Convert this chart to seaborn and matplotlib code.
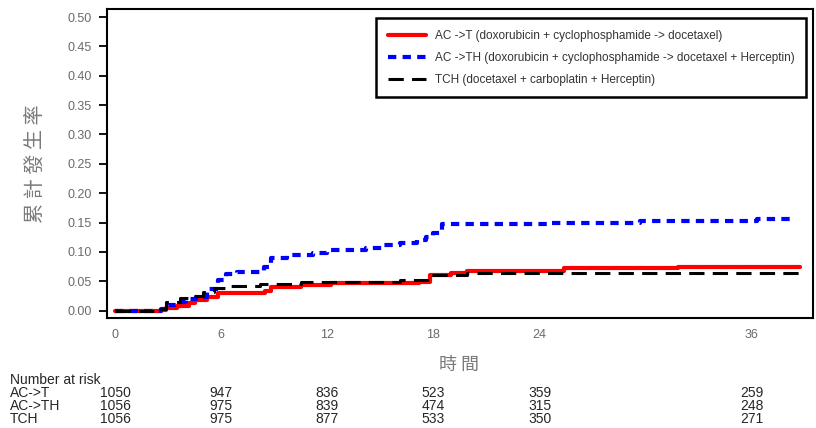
import numpy as np
import pandas as pd
import matplotlib
matplotlib.use('Agg')
import matplotlib.pyplot as plt
import matplotlib.transforms as mtransforms
import seaborn as sns

# Cumulative incidence curves (months, rate)
act_t = [0, 2.6, 2.9, 3.5, 4.2, 4.5, 5.2, 5.8, 8.5, 8.8, 9.5, 10.5, 12.2, 14.5, 17.2, 17.8, 19.0, 19.9, 25.4, 31.8, 38.7]
act_v = [0, 0.002, 0.005, 0.008, 0.013, 0.018, 0.023, 0.030, 0.034, 0.040, 0.041, 0.044, 0.047, 0.048, 0.049,
         0.061, 0.064, 0.068, 0.072, 0.075, 0.075]

acth_t = [0, 2.6, 3.0, 3.5, 4.0, 4.6, 5.2, 5.8, 6.3, 6.9, 8.4, 8.8, 9.7, 11.2, 12.0, 14.2, 15.2, 16.1, 17.1,
          17.6, 18.0, 18.5, 24.4, 29.7, 36.3, 38.2]
acth_v = [0, 0.003, 0.010, 0.015, 0.020, 0.024, 0.037, 0.052, 0.062, 0.066, 0.075, 0.089, 0.095, 0.099, 0.104,
          0.107, 0.112, 0.116, 0.120, 0.126, 0.132, 0.147, 0.150, 0.153, 0.156, 0.156]

tch_t = [0, 2.6, 2.9, 3.7, 4.4, 5.0, 5.6, 6.3, 8.2, 10.5, 16.1, 17.8, 19.9, 39.0]
tch_v = [0, 0.003, 0.015, 0.021, 0.025, 0.032, 0.038, 0.042, 0.045, 0.049, 0.053, 0.061, 0.065, 0.065]

legend_labels = ['AC ->T (doxorubicin + cyclophosphamide -> docetaxel)',
                 'AC ->TH (doxorubicin + cyclophosphamide -> docetaxel + Herceptin)',
                 'TCH (docetaxel + carboplatin + Herceptin)']

# Number at risk table
risk_times = [0, 6, 12, 18, 24, 36]
risk_names = ['AC->T', 'AC->TH', 'TCH']
risk_act = [1050, 947, 836, 523, 359, 259]
risk_acth = [1056, 975, 839, 474, 315, 248]
risk_tch = [1056, 975, 877, 533, 350, 271]

x_ticks = [0, 6, 12, 18, 24, 36]
y_ticks = [0.00, 0.05, 0.10, 0.15, 0.20, 0.25, 0.30, 0.35, 0.40, 0.45, 0.50]

sns.set_style('ticks')
plt.rcParams['font.family'] = ['Liberation Sans', 'Noto Sans CJK TC', 'DejaVu Sans']

fig = plt.figure(figsize=(8.16, 4.28), dpi=100)
ax = fig.add_axes([106.7 / 816, 1 - 318 / 428, (813 - 106.7) / 816, (318 - 8.5) / 428])

series = [
    (act_t, act_v, '#ff0000', '-', 3.0),
    (acth_t, acth_v, '#0000ff', (0, (2, 1.5)), 3.0),
    (tch_t, tch_v, 'black', (0, (5, 2.7)), 2.2),
]
for (t, v, col, ls, lw), lab in zip(series, legend_labels):
    df = pd.DataFrame({'t': t, 'v': v})
    sns.lineplot(data=df, x='t', y='v', ax=ax, color=col, linestyle=ls, linewidth=lw,
                 drawstyle='steps-post', estimator=None, sort=False, label=lab)

ax.set_xlim(-0.47, 39.46)
ax.set_ylim(-0.0124, 0.5145)
ax.set_xticks(x_ticks)
ax.set_yticks(y_ticks)
ax.set_yticklabels(['%.2f' % y for y in y_ticks])
ax.tick_params(axis='y', length=6, width=1.3, pad=5, labelsize=9, labelcolor='#6a6a6a', color='black')
ax.tick_params(axis='x', length=0, pad=8, labelsize=9, labelcolor='#6a6a6a')
for s in ax.spines.values():
    s.set_linewidth(1.5)
    s.set_color('black')

ax.set_ylabel('累 計 發 生 率', fontsize=14.5, color='#7a7a7a',
              family=['Noto Sans CJK TC', 'DejaVu Sans'])
ax.yaxis.set_label_coords(-0.086, 0.5)
ax.set_xlabel('時 間', fontsize=13, color='#7a7a7a',
              family=['Noto Sans CJK TC', 'DejaVu Sans'])
ax.xaxis.set_label_coords(0.4995, -0.122)

leg = ax.legend(loc='upper right', bbox_to_anchor=(806 / 816, 1 - 18 / 428),
                bbox_transform=fig.transFigure, borderaxespad=0, fontsize=8.45,
                handlelength=3.2, handletextpad=0.75, labelspacing=0.85, borderpad=1.0,
                fancybox=False, framealpha=1, edgecolor='black')
leg.get_frame().set_linewidth(1.8)
for txt in leg.get_texts():
    txt.set_color('#333333')

# Number at risk table below the axes
trans = mtransforms.blended_transform_factory(ax.transData, fig.transFigure)
row_y = [393, 406, 419]
fig.text(10 / 816, 1 - 380 / 428, 'Number at risk', fontsize=10, va='center', ha='left')
for name, counts, yy in zip(risk_names, [risk_act, risk_acth, risk_tch], row_y):
    fig.text(10 / 816, 1 - yy / 428, name, fontsize=10, va='center', ha='left')
    for tt, n in zip(risk_times, counts):
        ax.text(tt, 1 - yy / 428, str(n), transform=trans, fontsize=10, va='center', ha='center')

fig.savefig('out.png', dpi=100)
